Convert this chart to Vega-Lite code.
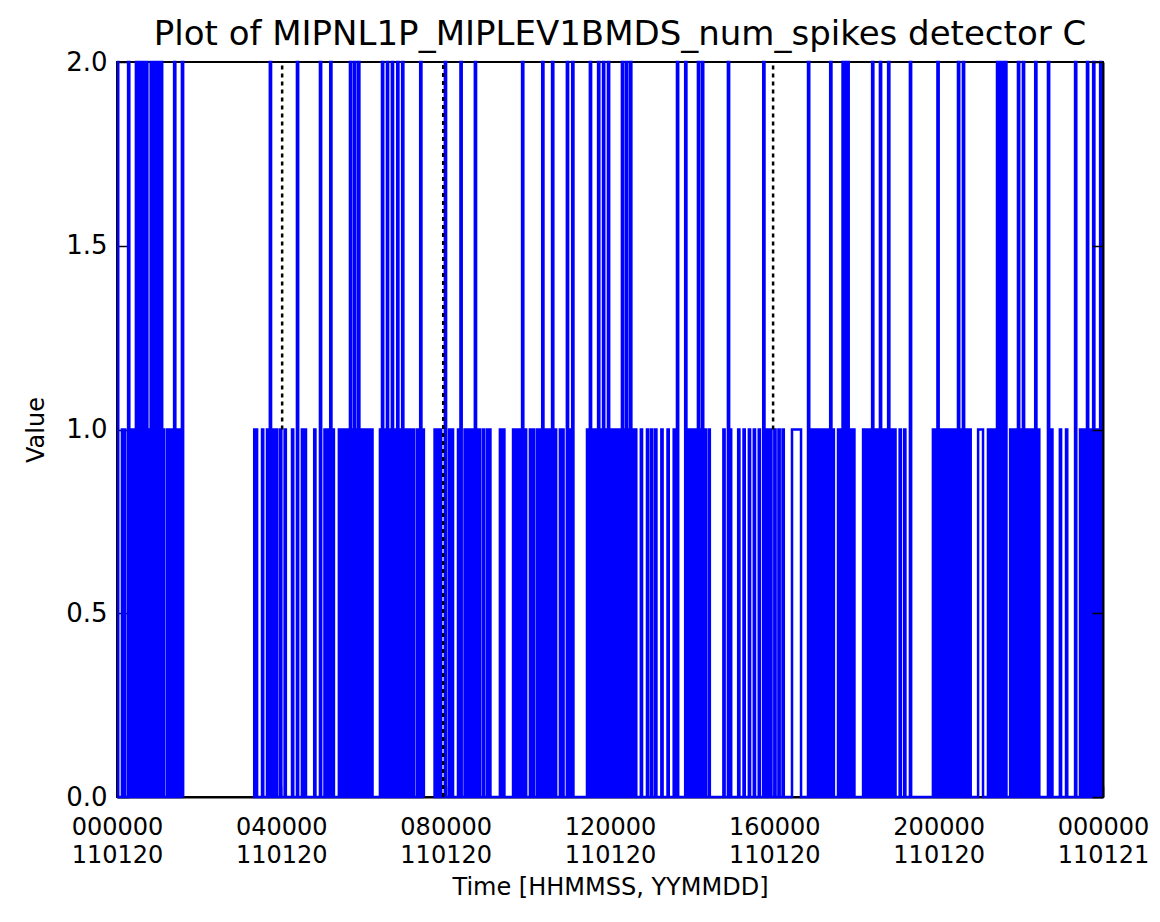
{
"$schema": "https://vega.github.io/schema/vega-lite/v6.json",
"width": 986, "height": 735,
"autosize": {"type": "none"},
"padding": {"left": 117, "top": 62, "right": 57, "bottom": 125},
"background": "white",
"config": {"view": {"stroke": "#000", "strokeWidth": 2}, "font": "DejaVu Sans",
  "axis": {"grid": false, "domainColor": "#000", "domainWidth": 2, "tickColor": "#000", "tickWidth": 1.5, "labelColor": "#000", "titleColor": "#000", "labelFont": "DejaVu Sans", "titleFont": "DejaVu Sans", "titleFontWeight": "normal"}},
"title": {"text": "Plot of MIPNL1P_MIPLEV1BMDS_num_spikes detector C", "fontSize": 34, "font": "DejaVu Sans", "fontWeight": "normal", "color": "#000", "anchor": "middle", "offset": -3, "dx": 10},
"datasets": {
"series": [
{"t":0,"v":2},{"t":0.03,"v":0},{"t":0.12,"v":1},{"t":0.15,"v":0},{"t":0.17,"v":1},{"t":0.2,"v":0},{"t":0.27,"v":2},{"t":0.3,"v":0},{"t":0.32,"v":1},{"t":0.35,"v":0},
{"t":0.37,"v":1},{"t":0.4,"v":0},{"t":0.42,"v":1},{"t":0.45,"v":0},{"t":0.46,"v":2},{"t":0.49,"v":0},{"t":0.51,"v":2},{"t":0.54,"v":0},{"t":0.56,"v":2},{"t":0.59,"v":0},
{"t":0.61,"v":2},{"t":0.64,"v":0},{"t":0.66,"v":2},{"t":0.69,"v":0},{"t":0.71,"v":2},{"t":0.74,"v":0},{"t":0.77,"v":1},{"t":0.8,"v":0},{"t":0.82,"v":2},{"t":0.85,"v":0},
{"t":0.87,"v":2},{"t":0.9,"v":0},{"t":0.92,"v":2},{"t":0.95,"v":0},{"t":0.97,"v":2},{"t":1,"v":0},{"t":1.02,"v":2},{"t":1.05,"v":0},{"t":1.07,"v":2},{"t":1.1,"v":0},
{"t":1.12,"v":1},{"t":1.15,"v":0},{"t":1.22,"v":1},{"t":1.25,"v":0},{"t":1.27,"v":1},{"t":1.3,"v":0},{"t":1.32,"v":1},{"t":1.35,"v":0},{"t":1.39,"v":2},{"t":1.42,"v":0},
{"t":1.44,"v":1},{"t":1.47,"v":0},{"t":1.49,"v":1},{"t":1.52,"v":0},{"t":1.54,"v":1},{"t":1.57,"v":0},{"t":1.58,"v":2},{"t":1.61,"v":0},{"t":1.63,"v":null},
{"t":3.31,"v":1},{"t":3.34,"v":0},{"t":3.38,"v":1},{"t":3.41,"v":0},{"t":3.53,"v":1},{"t":3.56,"v":0},{"t":3.65,"v":1},{"t":3.68,"v":0},{"t":3.72,"v":2},{"t":3.75,"v":0},
{"t":3.8,"v":1},{"t":3.83,"v":0},{"t":3.87,"v":1},{"t":3.9,"v":0},{"t":3.97,"v":1},{"t":4,"v":0},{"t":4.08,"v":1},{"t":4.11,"v":0},{"t":4.26,"v":1},{"t":4.29,"v":0},
{"t":4.38,"v":2},{"t":4.41,"v":0},{"t":4.5,"v":1},{"t":4.53,"v":0},{"t":4.57,"v":1},{"t":4.6,"v":0},{"t":4.8,"v":1},{"t":4.83,"v":0},{"t":4.94,"v":2},{"t":4.97,"v":0},
{"t":5.05,"v":1},{"t":5.08,"v":0},{"t":5.12,"v":1},{"t":5.15,"v":0},{"t":5.19,"v":2},{"t":5.22,"v":0},{"t":5.25,"v":1},{"t":5.28,"v":0},{"t":5.4,"v":1},{"t":5.43,"v":0},
{"t":5.46,"v":1},{"t":5.49,"v":0},{"t":5.52,"v":1},{"t":5.55,"v":0},{"t":5.58,"v":1},{"t":5.61,"v":0},{"t":5.67,"v":2},{"t":5.7,"v":0},{"t":5.72,"v":1},{"t":5.75,"v":0},
{"t":5.77,"v":2},{"t":5.8,"v":0},{"t":5.82,"v":1},{"t":5.85,"v":0},{"t":5.87,"v":2},{"t":5.9,"v":0},{"t":5.93,"v":1},{"t":5.96,"v":0},{"t":5.99,"v":1},{"t":6.02,"v":0},
{"t":6.05,"v":1},{"t":6.08,"v":0},{"t":6.12,"v":1},{"t":6.15,"v":0},{"t":6.19,"v":1},{"t":6.22,"v":0},{"t":6.4,"v":1},{"t":6.43,"v":0},{"t":6.45,"v":2},{"t":6.48,"v":0},
{"t":6.51,"v":1},{"t":6.54,"v":0},{"t":6.57,"v":2},{"t":6.6,"v":0},{"t":6.63,"v":1},{"t":6.66,"v":0},{"t":6.69,"v":2},{"t":6.72,"v":0},{"t":6.75,"v":1},{"t":6.78,"v":0},
{"t":6.82,"v":2},{"t":6.85,"v":0},{"t":6.88,"v":1},{"t":6.91,"v":0},{"t":6.94,"v":2},{"t":6.97,"v":0},{"t":7,"v":1},{"t":7.03,"v":0},{"t":7.06,"v":1},{"t":7.09,"v":0},
{"t":7.14,"v":1},{"t":7.17,"v":0},{"t":7.2,"v":1},{"t":7.23,"v":0},{"t":7.3,"v":1},{"t":7.33,"v":0},{"t":7.38,"v":2},{"t":7.41,"v":0},{"t":7.44,"v":1},{"t":7.47,"v":0},
{"t":7.52,"v":null},
{"t":7.7,"v":1},{"t":7.73,"v":0},{"t":7.78,"v":1},{"t":7.81,"v":0},{"t":7.86,"v":1},{"t":7.89,"v":0},{"t":7.98,"v":2},{"t":8.01,"v":0},{"t":8.08,"v":1},{"t":8.11,"v":0},
{"t":8.15,"v":1},{"t":8.18,"v":0},{"t":8.3,"v":1},{"t":8.33,"v":0},{"t":8.36,"v":2},{"t":8.39,"v":0},{"t":8.46,"v":1},{"t":8.49,"v":0},{"t":8.55,"v":1},{"t":8.58,"v":0},
{"t":8.62,"v":1},{"t":8.65,"v":0},{"t":8.71,"v":2},{"t":8.74,"v":0},{"t":8.8,"v":1},{"t":8.83,"v":0},{"t":8.9,"v":1},{"t":8.93,"v":0},{"t":9,"v":1},{"t":9.03,"v":0},
{"t":9.06,"v":1},{"t":9.09,"v":0},{"t":9.32,"v":1},{"t":9.35,"v":0},{"t":9.4,"v":1},{"t":9.43,"v":0},{"t":9.64,"v":1},{"t":9.67,"v":0},{"t":9.72,"v":1},{"t":9.75,"v":0},
{"t":9.8,"v":1},{"t":9.83,"v":0},{"t":9.86,"v":2},{"t":9.89,"v":0},{"t":9.93,"v":1},{"t":9.96,"v":0},{"t":10.05,"v":1},{"t":10.08,"v":0},{"t":10.12,"v":1},{"t":10.15,"v":0},
{"t":10.22,"v":1},{"t":10.25,"v":0},{"t":10.29,"v":1},{"t":10.32,"v":0},{"t":10.35,"v":2},{"t":10.38,"v":0},{"t":10.41,"v":1},{"t":10.44,"v":0},{"t":10.5,"v":1},{"t":10.53,"v":0},
{"t":10.59,"v":2},{"t":10.62,"v":0},{"t":10.66,"v":1},{"t":10.69,"v":0},{"t":10.78,"v":1},{"t":10.81,"v":0},{"t":10.84,"v":1},{"t":10.87,"v":0},{"t":10.95,"v":2},{"t":10.98,"v":0},
{"t":11.02,"v":1},{"t":11.05,"v":0},{"t":11.08,"v":2},{"t":11.11,"v":0},{"t":11.44,"v":1},{"t":11.47,"v":0},{"t":11.51,"v":2},{"t":11.54,"v":0},{"t":11.57,"v":1},{"t":11.6,"v":0},
{"t":11.64,"v":1},{"t":11.67,"v":0},{"t":11.71,"v":2},{"t":11.74,"v":0},{"t":11.78,"v":1},{"t":11.81,"v":0},{"t":11.83,"v":2},{"t":11.86,"v":0},{"t":11.89,"v":1},{"t":11.92,"v":0},
{"t":11.95,"v":2},{"t":11.98,"v":0},{"t":12.01,"v":1},{"t":12.04,"v":0},{"t":12.07,"v":1},{"t":12.1,"v":0},{"t":12.13,"v":1},{"t":12.16,"v":0},{"t":12.19,"v":1},{"t":12.22,"v":0},
{"t":12.24,"v":1},{"t":12.27,"v":0},{"t":12.29,"v":2},{"t":12.32,"v":0},{"t":12.34,"v":1},{"t":12.37,"v":0},{"t":12.39,"v":2},{"t":12.42,"v":0},{"t":12.44,"v":1},{"t":12.47,"v":0},
{"t":12.49,"v":2},{"t":12.52,"v":0},{"t":12.55,"v":1},{"t":12.58,"v":0},{"t":12.61,"v":1},{"t":12.64,"v":0},{"t":12.75,"v":1},{"t":12.78,"v":0},{"t":12.9,"v":1},{"t":12.93,"v":0},
{"t":13,"v":1},{"t":13.03,"v":0},{"t":13.1,"v":1},{"t":13.13,"v":0},{"t":13.25,"v":1},{"t":13.28,"v":0},{"t":13.4,"v":1},{"t":13.43,"v":0},{"t":13.55,"v":1},{"t":13.58,"v":0},
{"t":13.63,"v":2},{"t":13.66,"v":0},{"t":13.83,"v":2},{"t":13.86,"v":0},{"t":13.9,"v":1},{"t":13.93,"v":0},{"t":13.96,"v":1},{"t":13.99,"v":0},{"t":14.02,"v":1},{"t":14.05,"v":0},
{"t":14.08,"v":1},{"t":14.11,"v":0},{"t":14.14,"v":2},{"t":14.17,"v":0},{"t":14.19,"v":1},{"t":14.22,"v":0},{"t":14.24,"v":2},{"t":14.27,"v":0},{"t":14.3,"v":1},{"t":14.33,"v":0},
{"t":14.4,"v":1},{"t":14.43,"v":0},{"t":14.76,"v":1},{"t":14.79,"v":0},{"t":14.87,"v":2},{"t":14.9,"v":0},{"t":14.92,"v":1},{"t":14.95,"v":0},{"t":15.12,"v":1},{"t":15.15,"v":0},
{"t":15.25,"v":1},{"t":15.28,"v":0},{"t":15.38,"v":1},{"t":15.41,"v":0},{"t":15.5,"v":1},{"t":15.53,"v":0},{"t":15.62,"v":1},{"t":15.65,"v":0},{"t":15.73,"v":2},{"t":15.76,"v":0},
{"t":15.82,"v":1},{"t":15.85,"v":0},{"t":15.9,"v":1},{"t":15.93,"v":0},{"t":16,"v":1},{"t":16.03,"v":0},{"t":16.1,"v":1},{"t":16.13,"v":0},{"t":16.2,"v":1},{"t":16.23,"v":0},
{"t":16.43,"v":1},{"t":16.65,"v":0},{"t":16.82,"v":2},{"t":16.85,"v":0},{"t":16.88,"v":1},{"t":16.91,"v":0},{"t":16.94,"v":1},{"t":16.97,"v":0},{"t":17,"v":1},{"t":17.03,"v":0},
{"t":17.06,"v":1},{"t":17.09,"v":0},{"t":17.12,"v":1},{"t":17.15,"v":0},{"t":17.18,"v":1},{"t":17.21,"v":0},{"t":17.24,"v":1},{"t":17.27,"v":0},{"t":17.3,"v":1},{"t":17.33,"v":0},
{"t":17.36,"v":2},{"t":17.39,"v":0},{"t":17.42,"v":1},{"t":17.45,"v":0},{"t":17.55,"v":1},{"t":17.58,"v":0},{"t":17.61,"v":1},{"t":17.64,"v":0},{"t":17.66,"v":2},{"t":17.69,"v":0},
{"t":17.72,"v":2},{"t":17.75,"v":0},{"t":17.78,"v":2},{"t":17.81,"v":0},{"t":17.84,"v":1},{"t":17.87,"v":0},{"t":17.92,"v":1},{"t":17.95,"v":0},{"t":18.16,"v":1},{"t":18.19,"v":0},
{"t":18.23,"v":1},{"t":18.26,"v":0},{"t":18.3,"v":1},{"t":18.33,"v":0},{"t":18.38,"v":2},{"t":18.41,"v":0},{"t":18.44,"v":1},{"t":18.47,"v":0},{"t":18.5,"v":1},{"t":18.53,"v":0},
{"t":18.57,"v":2},{"t":18.6,"v":0},{"t":18.64,"v":1},{"t":18.67,"v":0},{"t":18.7,"v":1},{"t":18.73,"v":0},{"t":18.77,"v":2},{"t":18.8,"v":0},{"t":18.84,"v":1},{"t":18.87,"v":0},
{"t":18.92,"v":1},{"t":18.95,"v":0},{"t":19.05,"v":1},{"t":19.08,"v":0},{"t":19.16,"v":1},{"t":19.19,"v":0},{"t":19.3,"v":2},{"t":19.33,"v":0},{"t":19.86,"v":1},{"t":19.89,"v":0},
{"t":19.92,"v":1},{"t":19.95,"v":0},{"t":19.97,"v":2},{"t":20,"v":0},{"t":20.03,"v":1},{"t":20.06,"v":0},{"t":20.1,"v":1},{"t":20.13,"v":0},{"t":20.17,"v":1},{"t":20.2,"v":0},
{"t":20.24,"v":1},{"t":20.27,"v":0},{"t":20.33,"v":1},{"t":20.36,"v":0},{"t":20.4,"v":1},{"t":20.43,"v":0},{"t":20.47,"v":2},{"t":20.5,"v":0},{"t":20.53,"v":1},{"t":20.56,"v":0},
{"t":20.59,"v":2},{"t":20.62,"v":0},{"t":20.66,"v":1},{"t":20.69,"v":0},{"t":20.75,"v":1},{"t":20.78,"v":0},{"t":20.96,"v":1},{"t":21.08,"v":0},{"t":21.2,"v":1},{"t":21.23,"v":0},
{"t":21.26,"v":1},{"t":21.29,"v":0},{"t":21.32,"v":1},{"t":21.35,"v":0},{"t":21.37,"v":1},{"t":21.4,"v":0},{"t":21.42,"v":2},{"t":21.45,"v":0},{"t":21.47,"v":2},{"t":21.5,"v":0},
{"t":21.52,"v":2},{"t":21.55,"v":0},{"t":21.57,"v":2},{"t":21.6,"v":0},{"t":21.62,"v":2},{"t":21.65,"v":0},{"t":21.74,"v":1},{"t":21.77,"v":0},{"t":21.8,"v":1},{"t":21.83,"v":0},
{"t":21.86,"v":1},{"t":21.89,"v":0},{"t":21.93,"v":2},{"t":21.96,"v":0},{"t":21.99,"v":1},{"t":22.02,"v":0},{"t":22.05,"v":2},{"t":22.08,"v":0},{"t":22.12,"v":1},{"t":22.15,"v":0},
{"t":22.2,"v":1},{"t":22.23,"v":0},{"t":22.28,"v":1},{"t":22.31,"v":0},{"t":22.35,"v":2},{"t":22.38,"v":0},{"t":22.42,"v":1},{"t":22.45,"v":0},{"t":22.66,"v":2},{"t":22.69,"v":0},
{"t":22.74,"v":1},{"t":22.77,"v":0},{"t":22.95,"v":1},{"t":22.98,"v":0},{"t":23.1,"v":1},{"t":23.13,"v":0},{"t":23.32,"v":2},{"t":23.35,"v":0},{"t":23.44,"v":1},{"t":23.47,"v":0},
{"t":23.5,"v":1},{"t":23.53,"v":0},{"t":23.56,"v":1},{"t":23.59,"v":0},{"t":23.61,"v":2},{"t":23.64,"v":0},{"t":23.67,"v":1},{"t":23.7,"v":0},{"t":23.76,"v":2},{"t":23.79,"v":0},
{"t":23.82,"v":1},{"t":23.85,"v":0},{"t":23.88,"v":1},{"t":23.91,"v":0},{"t":23.93,"v":2},{"t":23.96,"v":0},{"t":24,"v":0}
],
"markers": [
{"t":4.02,"lo":1,"hi":2},{"t":7.94,"lo":0,"hi":2},{"t":15.97,"lo":1,"hi":2}
]
},
"layer": [
{
"data": {"name": "series"},
"mark": {"type": "line", "interpolate": "step-after", "color": "#0000ff", "strokeWidth": 2.5, "invalid": "break-paths-show-domains"},
"encoding": {
  "x": {"field": "t", "type": "quantitative", "scale": {"domain": [0, 24], "nice": false, "zero": false},
    "axis": {"orient": "bottom", "values": [0, 4, 8, 12, 16, 20, 24], "labelExpr": "datum.value == 24 ? '000000' : (datum.value < 10 ? '0' : '') + datum.value + '0000'", "labelFontSize": 24, "labelBaseline": "top", "tickSize": -11, "labelPadding": 29, "labelFlush": false, "title": null, "zindex": 0}},
  "y": {"field": "v", "type": "quantitative", "scale": {"domain": [0, 2], "nice": false, "zero": false},
    "axis": {"orient": "left", "values": [0, 0.5, 1, 1.5, 2], "format": ".1f", "labelFontSize": 26, "tickSize": -12, "labelPadding": 22, "labelFlush": false, "title": "Value", "titleFontSize": 24, "titlePadding": 17, "zindex": 0}}
}
},
{
"data": {"name": "markers"},
"mark": {"type": "rule", "color": "#000", "strokeWidth": 2.5, "strokeDash": [4, 4]},
"encoding": {
  "x": {"field": "t", "type": "quantitative", "axis": {"orient": "bottom", "values": [0, 4, 8, 12, 16, 20, 24], "labelExpr": "datum.value == 24 ? '110121' : '110120'", "labelFontSize": 24, "labelBaseline": "top", "ticks": false, "domain": false, "labelPadding": 46, "labelFlush": false, "title": "Time [HHMMSS, YYMMDD]", "titleFontSize": 24, "titlePadding": 8, "zindex": 0}},
  "y": {"field": "lo", "type": "quantitative", "axis": {"orient": "right", "values": [0, 0.5, 1, 1.5, 2], "labels": false, "tickSize": -11, "title": null, "zindex": 1}},
  "y2": {"field": "hi"}
}
}
],
"resolve": {"axis": {"x": "independent", "y": "independent"}}
}
